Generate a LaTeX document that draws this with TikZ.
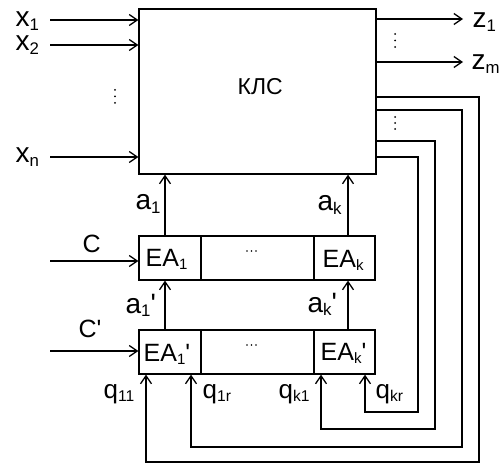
\documentclass[tikz,border=0pt]{standalone}
\usepackage{fontspec}
\setmainfont{Liberation Sans}
\usetikzlibrary{arrows.meta}
\newcommand\Sb[1]{\raisebox{-0.12em}{\scalebox{0.6}{#1}}}
\newcommand\prm{\textquotesingle}
\begin{document}
\begin{tikzpicture}[x=1bp,y=-1bp,line width=1.3bp,
  >={Straight Barb[length=8bp,width=11bp]},
  box/.style={draw,rectangle,inner sep=0pt,minimum height=44bp},
  big/.style={font=\fontsize{28bp}{30bp}\selectfont,inner sep=0pt,anchor=base west},
  mid/.style={font=\fontsize{25bp}{27bp}\selectfont,inner sep=0pt,anchor=base west},
  sml/.style={font=\fontsize{26bp}{28bp}\selectfont,inner sep=0pt,anchor=base west},
  dot/.style={fill,circle,inner sep=0pt,minimum size=2bp}]
\useasboundingbox (0,0) rectangle (501,464);
% main block
\node[draw,rectangle,inner sep=0pt,minimum width=237bp,minimum height=165bp] (kls) at (257.5,91.5) {};
\node[font=\fontsize{23bp}{25bp}\selectfont,inner sep=0pt,anchor=base west] (klst) at (237,95) {КЛС};
% register rows
\node[box,minimum width=62bp]  (ea1)  at (170,258) {};
\node[box,minimum width=113bp] (eam)  at (257.5,258) {};
\node[box,minimum width=61bp]  (eak)  at (344.5,258) {};
\node[box,minimum width=62bp]  (ea1p) at (170,352) {};
\node[box,minimum width=113bp] (eamp) at (257.5,352) {};
\node[box,minimum width=61bp]  (eakp) at (344.5,352) {};
\node[mid] (tea1)  at (145,266) {EA\Sb{1}};
\node[mid] (teak)  at (322,267) {EA\Sb{k}};
\node[mid] (tea1p) at (143,361) {EA\Sb{1}\prm};
\node[mid] (teakp) at (320,360) {EA\Sb{k}\prm};
\foreach \i in {0,1,2} {
  \node[dot,minimum size=1.6bp] at (247+4.5*\i,251) {};
  \node[dot,minimum size=1.6bp] at (247+4.5*\i,345) {};
}
% inputs
\coordinate (ix1) at (50,20);
\coordinate (ix2) at (50,45);
\coordinate (ixn) at (50,157);
\coordinate (ic)  at (50,261);
\coordinate (icp) at (50,351);
\draw[->] (ix1) -- (ix1 -| kls.west);
\draw[->] (ix2) -- (ix2 -| kls.west);
\draw[->] (ixn) -- (ixn -| kls.west);
\draw[->] (ic)  -- (ic -| ea1.west);
\draw[->] (icp) -- (icp -| ea1p.west);
\node[big] (lx1) at (15,27) {x\Sb{1}};
\node[big] (lx2) at (15,51) {x\Sb{2}};
\node[big] (lxn) at (15,163) {x\Sb{n}};
\node[mid] (lc)  at (82,252) {C};
\node[mid] (lcp) at (78,337) {C\prm};
\foreach \y in {90,96.5,103} \node[dot] at (115,\y) {};
% outputs
\coordinate (oz1) at (463,19);
\coordinate (ozm) at (463,62);
\draw[->] (oz1 -| kls.east) -- (oz1);
\draw[->] (ozm -| kls.east) -- (ozm);
\node[big] (lz1) at (472,28) {z\Sb{1}};
\node[big] (lzm) at (471,70) {z\Sb{m}};
\foreach \y in {34,40.5,47} \node[dot] at (395,\y) {};
\foreach \y in {117,123,129} \node[dot] at (395,\y) {};
% a arrows
\coordinate (ca1) at (165,0);
\coordinate (cak) at (348,0);
\draw[->] (ea1.north -| ca1) -- (kls.south -| ca1);
\draw[->] (eak.north -| cak) -- (kls.south -| cak);
\draw[->] (ea1p.north -| ca1) -- (ea1.south -| ca1);
\draw[->] (eakp.north -| cak) -- (eak.south -| cak);
\node[big] (la1)  at (135,210) {a\Sb{1}};
\node[big] (lak)  at (317,211) {a\Sb{k}};
\node[big] (la1p) at (125,313) {a\Sb{1}\prm};
\node[big] (lakp) at (307,312) {a\Sb{k}\prm};
% feedback
\coordinate (f1) at (479,97);
\coordinate (f2) at (462,110);
\coordinate (f3) at (435,141);
\coordinate (f4) at (418,157);
\coordinate (q1) at (146,462);
\coordinate (q2) at (191,447);
\coordinate (q3) at (321,429);
\coordinate (q4) at (365,412);
\draw[->] (f1 -| kls.east) -- (f1) -- (f1 |- q1) -- (q1) -- (q1 |- ea1p.south);
\draw[->] (f2 -| kls.east) -- (f2) -- (f2 |- q2) -- (q2) -- (q2 |- ea1p.south);
\draw[->] (f3 -| kls.east) -- (f3) -- (f3 |- q3) -- (q3) -- (q3 |- eakp.south);
\draw[->] (f4 -| kls.east) -- (f4) -- (f4 |- q4) -- (q4) -- (q4 |- eakp.south);
\node[sml] (lq11) at (103,398) {q\Sb{11}};
\node[sml] (lq1r) at (202,398) {q\Sb{1r}};
\node[sml] (lqk1) at (278,398) {q\Sb{k1}};
\node[sml] (lqkr) at (375,398) {q\Sb{kr}};
\end{tikzpicture}
\end{document}
